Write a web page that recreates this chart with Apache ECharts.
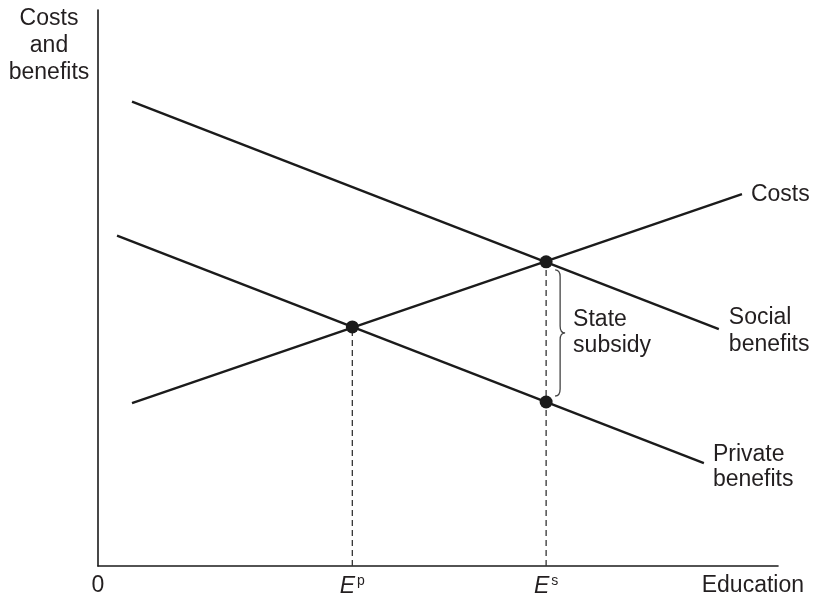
<!DOCTYPE html>
<html>
<head>
<meta charset="utf-8">
<script src="https://cdn.jsdelivr.net/npm/echarts@6/dist/echarts.min.js"></script>
<style>
  html, body { margin: 0; padding: 0; background: #fff; }
  #chart { width: 814px; height: 599px; }
</style>
</head>
<body>
<div id="chart"></div>
<script>
// Education: private vs social benefits, costs and the state subsidy gap
const costsLine = [[5.0, 29.3], [94.7, 66.9]];
const socialBenefits = [[5.0, 83.5], [91.3, 42.6]];
const privateBenefits = [[2.8, 59.4], [89.1, 18.5]];
const EP = 37.4;           // private optimum
const ES = 65.9;           // social optimum
const equilibria = [[EP, 43.0], [ES, 54.7], [ES, 29.5]];
const subsidyGap = [[ES, 54.7, 29.5]];
const xTickValues = [0, EP, ES];
const xTickLabels = ['0', '{e|E}{s|p}', '{e|E}{s|s}'];

const FONT = "'Liberation Sans', Arial, Helvetica, sans-serif";
const INK = '#1b1b1b';
const TEXT = '#231f20';

const chart = echarts.init(document.getElementById('chart'), null, { renderer: 'canvas' });

const lineSeries = (name, data, label, dist, off, lh) => ({
  name, type: 'line', data, symbol: 'none', silent: true, z: 3,
  lineStyle: { color: INK, width: 2.4 },
  endLabel: {
    show: true, formatter: label, distance: dist, offset: off,
    color: TEXT, fontFamily: FONT, fontSize: 23, lineHeight: lh
  }
});

const dropLine = (x, y) => ({
  type: 'line', data: [[x, 0], [x, y]], symbol: 'none', silent: true, z: 2,
  lineStyle: { color: '#333', width: 1.3, type: [6, 4] }
});

chart.setOption({
  animation: false,
  backgroundColor: '#fff',
  grid: { left: 98, right: 36, top: 10, bottom: 33 },
  xAxis: {
    type: 'value', min: 0, max: 100,
    splitLine: { show: false },
    axisTick: { show: false },
    axisLine: { lineStyle: { color: INK, width: 1.6 } },
    axisLabel: {
      customValues: xTickValues,
      margin: 8,
      color: TEXT, fontFamily: FONT, fontSize: 23,
      formatter: (v) => xTickLabels[xTickValues.indexOf(v)] ?? '',
      rich: {
        e: { fontFamily: FONT, fontSize: 23, fontStyle: 'italic', color: TEXT, lineHeight: 26 },
        s: { fontFamily: FONT, fontSize: 14, color: TEXT, verticalAlign: 'top', lineHeight: 15, padding: [0, 0, 0, 2] }
      }
    },
    name: 'Education',
    nameLocation: 'end',
    nameGap: 26,
    nameTextStyle: {
      align: 'right', verticalAlign: 'top', padding: [8, 0, 0, 0],
      color: TEXT, fontFamily: FONT, fontSize: 23
    }
  },
  yAxis: {
    type: 'value', min: 0, max: 100,
    splitLine: { show: false },
    axisTick: { show: false },
    axisLabel: { show: false },
    axisLine: { lineStyle: { color: INK, width: 1.6 } }
  },
  graphic: [{
    type: 'text', x: 49, y: 5,
    style: {
      text: 'Costs\nand\nbenefits', align: 'center', verticalAlign: 'top',
      fill: TEXT, font: '23px ' + FONT, lineHeight: 27
    }
  }],
  series: [
    dropLine(equilibria[0][0], equilibria[0][1]),
    dropLine(equilibria[1][0], equilibria[1][1]),
    lineSeries('Costs', costsLine, 'Costs', 9, [0, 1], 26),
    lineSeries('Social benefits', socialBenefits, 'Social\nbenefits', 10, [0, 2], 27),
    lineSeries('Private benefits', privateBenefits, 'Private\nbenefits', 9, [0, 4], 25),
    {
      type: 'scatter', data: equilibria, symbol: 'circle', symbolSize: 13, z: 5,
      silent: true, itemStyle: { color: INK, opacity: 1 }
    },
    {
      type: 'custom', data: subsidyGap, clip: false, silent: true, z: 4,
      encode: { x: 0, y: [1, 2] },
      renderItem: (params, api) => {
        const top = api.coord([api.value(0), api.value(1)]);
        const bot = api.coord([api.value(0), api.value(2)]);
        const x1 = top[0] + 14, x0 = x1 - 5, x2 = x1 + 5;
        const y1 = top[1] + 8, y2 = bot[1] - 6, ym = (y1 + y2) / 2;
        const d = `M${x0},${y1} Q${x1},${y1} ${x1},${y1 + 7} L${x1},${ym - 7} ` +
                  `Q${x1},${ym} ${x2},${ym} Q${x1},${ym} ${x1},${ym + 7} ` +
                  `L${x1},${y2 - 7} Q${x1},${y2} ${x0},${y2}`;
        return {
          type: 'group',
          children: [
            { type: 'path', shape: { pathData: d },
              style: { fill: 'none', stroke: '#444', lineWidth: 1.3 } },
            { type: 'text', x: x1 + 13, y: ym,
              style: { text: 'State\nsubsidy', align: 'left', verticalAlign: 'middle',
                       fill: TEXT, font: '23px ' + FONT, lineHeight: 26 } }
          ]
        };
      }
    }
  ]
});
</script>
</body>
</html>
